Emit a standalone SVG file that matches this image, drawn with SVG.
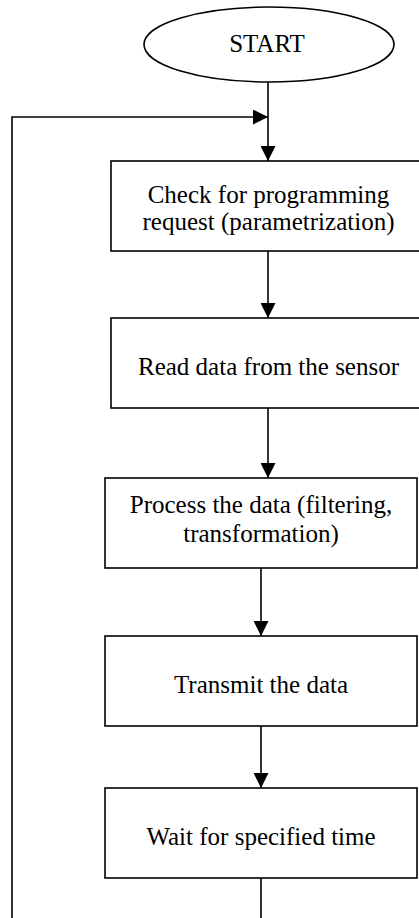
<svg xmlns="http://www.w3.org/2000/svg" width="419" height="918" viewBox="0 0 419 918">
<style>
.shape{fill:#fff;stroke:#000;stroke-width:1.6}
.lbl{font-family:"Liberation Serif","Times New Roman",serif;font-size:25px;fill:#000;text-anchor:middle}
.conn{fill:none;stroke:#000;stroke-width:1.6}
</style>
<defs>
<marker id="ah" markerWidth="15" markerHeight="15" viewBox="0 0 15 15" refX="15" refY="7.5" orient="auto" markerUnits="userSpaceOnUse">
<path d="M0,0 L15,7.5 L0,15 Z" fill="#000"/>
</marker>
</defs>
<rect width="419" height="918" fill="#fff"/>
<g id="start">
<ellipse class="shape" cx="269" cy="44.5" rx="125" ry="37.5"/>
<text class="lbl" x="267" y="52">START</text>
</g>
<g id="check">
<rect class="shape" x="111" y="161" width="315" height="90"/>
<text class="lbl" x="268.5" y="203">Check for programming</text>
<text class="lbl" x="268.5" y="230">request (parametrization)</text>
</g>
<g id="read">
<rect class="shape" x="111" y="318" width="315" height="90"/>
<text class="lbl" x="268.5" y="375">Read data from the sensor</text>
</g>
<g id="process">
<rect class="shape" x="105" y="478" width="312" height="90"/>
<text class="lbl" x="261" y="513">Process the data (filtering,</text>
<text class="lbl" x="261" y="542">transformation)</text>
</g>
<g id="transmit">
<rect class="shape" x="105" y="636" width="312" height="90"/>
<text class="lbl" x="261" y="693">Transmit the data</text>
</g>
<g id="wait">
<rect class="shape" x="105" y="788" width="312" height="90"/>
<text class="lbl" x="261" y="845">Wait for specified time</text>
</g>
<g id="connectors">
<line class="conn" x1="268" y1="82" x2="268" y2="161" marker-end="url(#ah)"/>
<line class="conn" x1="268" y1="251" x2="268" y2="318" marker-end="url(#ah)"/>
<line class="conn" x1="268" y1="408" x2="268" y2="478" marker-end="url(#ah)"/>
<line class="conn" x1="261" y1="568" x2="261" y2="636" marker-end="url(#ah)"/>
<line class="conn" x1="261" y1="726" x2="261" y2="788" marker-end="url(#ah)"/>
<line class="conn" x1="261" y1="878" x2="261" y2="920"/>
<polyline class="conn" points="12,920 12,117 268,117" marker-end="url(#ah)"/>
</g>
</svg>
